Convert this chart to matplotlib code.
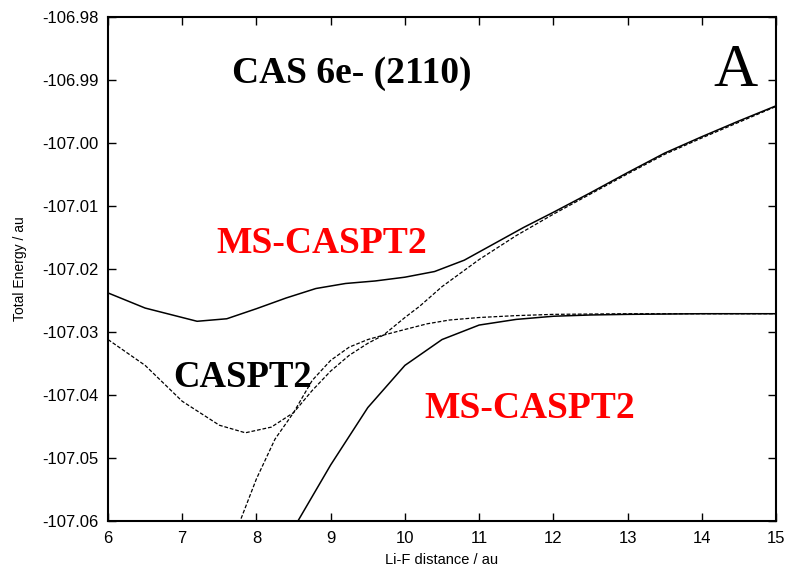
import matplotlib
matplotlib.use('Agg')
import matplotlib.pyplot as plt

# MS-CASPT2 upper root (solid)
ms_up_x = [6.0, 6.5, 7.2, 7.6, 8.0, 8.4, 8.8, 9.2, 9.6, 10.0, 10.4, 10.8, 11.2, 11.6,
           12.0, 12.5, 13.0, 13.5, 14.0, 14.5, 15.0]
ms_up_e = [-107.0238, -107.0262, -107.0283, -107.0279, -107.0263, -107.0246, -107.0231,
           -107.0223, -107.0219, -107.0213, -107.0204, -107.0186, -107.0160, -107.0134,
           -107.0110, -107.0079, -107.0047, -107.0016, -106.9990, -106.9965, -106.9941]

# MS-CASPT2 lower root (solid)
ms_lo_x = [8.4, 9.0, 9.5, 10.0, 10.5, 11.0, 11.5, 12.0, 12.5, 13.0, 14.0, 15.0]
ms_lo_e = [-107.0632, -107.0511, -107.0420, -107.0353, -107.0312, -107.0289, -107.0280,
           -107.0275, -107.0273, -107.0272, -107.0271, -107.0271]

# CASPT2 state starting at the minimum (dashed)
pt2_a_x = [6.0, 6.5, 7.0, 7.5, 7.85, 8.2, 8.5, 8.75, 9.0, 9.25, 9.5, 9.71, 10.0, 10.2,
           10.5, 11.0, 11.5, 12.0, 12.5, 13.0, 13.5, 14.0, 14.5, 15.0]
pt2_a_e = [-107.0312, -107.0353, -107.0410, -107.0448, -107.0460, -107.0451, -107.0428,
           -107.0393, -107.0362, -107.0337, -107.0318, -107.0305, -107.0277, -107.0259,
           -107.0228, -107.0185, -107.0147, -107.0113, -107.0081, -107.0049, -107.0018,
           -106.9992, -106.9967, -106.9942]

# CASPT2 state coming up from below (dashed)
pt2_b_x = [7.5, 7.78, 8.0, 8.25, 8.5, 8.75, 9.0, 9.25, 9.5, 9.71, 10.0, 10.3, 10.6,
           11.0, 11.5, 12.0, 13.0, 14.0, 15.0]
pt2_b_e = [-107.0700, -107.0600, -107.0533, -107.0470, -107.0428, -107.0377, -107.0345,
           -107.0324, -107.0312, -107.0305, -107.0296, -107.0287, -107.0281, -107.0277,
           -107.0274, -107.0272, -107.0271, -107.0271, -107.0271]

fig = plt.figure(figsize=(7.92, 5.71), dpi=100)
ax = fig.add_axes([0.1364, 0.0876, 0.8434, 0.8826])

dash = (0, (3, 1.5))
ax.plot(ms_up_x, ms_up_e, color='black', lw=1.1)
ax.plot(ms_lo_x, ms_lo_e, color='black', lw=1.1)
ax.plot(pt2_a_x, pt2_a_e, color='black', lw=0.9, linestyle=dash)
ax.plot(pt2_b_x, pt2_b_e, color='black', lw=0.9, linestyle=dash)

ax.set_xlim(6, 15)
ax.set_ylim(-107.06, -106.98)
ax.set_xticks(range(6, 16))
ax.set_yticks([-107.06, -107.05, -107.04, -107.03, -107.02, -107.01, -107.00,
               -106.99, -106.98])
ax.yaxis.set_major_formatter(matplotlib.ticker.FormatStrFormatter('%.2f'))
ax.tick_params(direction='in', top=True, right=True, length=6, width=1,
               labelsize=12, pad=7)
for lab in ax.get_xticklabels() + ax.get_yticklabels():
    lab.set_fontfamily('Liberation Sans')
for s in ax.spines.values():
    s.set_linewidth(1.5)

ax.set_xlabel('Li-F distance / au', fontfamily='Liberation Sans', fontsize=10.5, labelpad=5)
ax.set_ylabel('Total Energy / au', fontfamily='Liberation Sans', fontsize=10, labelpad=11)

serif = 'Liberation Serif'
ax.text(9.29, -106.9890, 'CAS 6e- (2110)', fontfamily=serif, fontweight='bold',
        fontsize=27, ha='center', va='center')
ax.text(14.45, -106.9886, 'A', fontfamily=serif, fontsize=44, ha='center', va='center')
ax.text(8.88, -107.0159, 'MS-CASPT2', fontfamily=serif, fontweight='bold', fontsize=27,
        color='red', ha='center', va='center')
ax.text(7.82, -107.0373, 'CASPT2', fontfamily=serif, fontweight='bold', fontsize=26.5,
        color='black', ha='center', va='center')
ax.text(11.68, -107.0421, 'MS-CASPT2', fontfamily=serif, fontweight='bold', fontsize=27,
        color='red', ha='center', va='center')

fig.savefig('out.png', dpi=100)
